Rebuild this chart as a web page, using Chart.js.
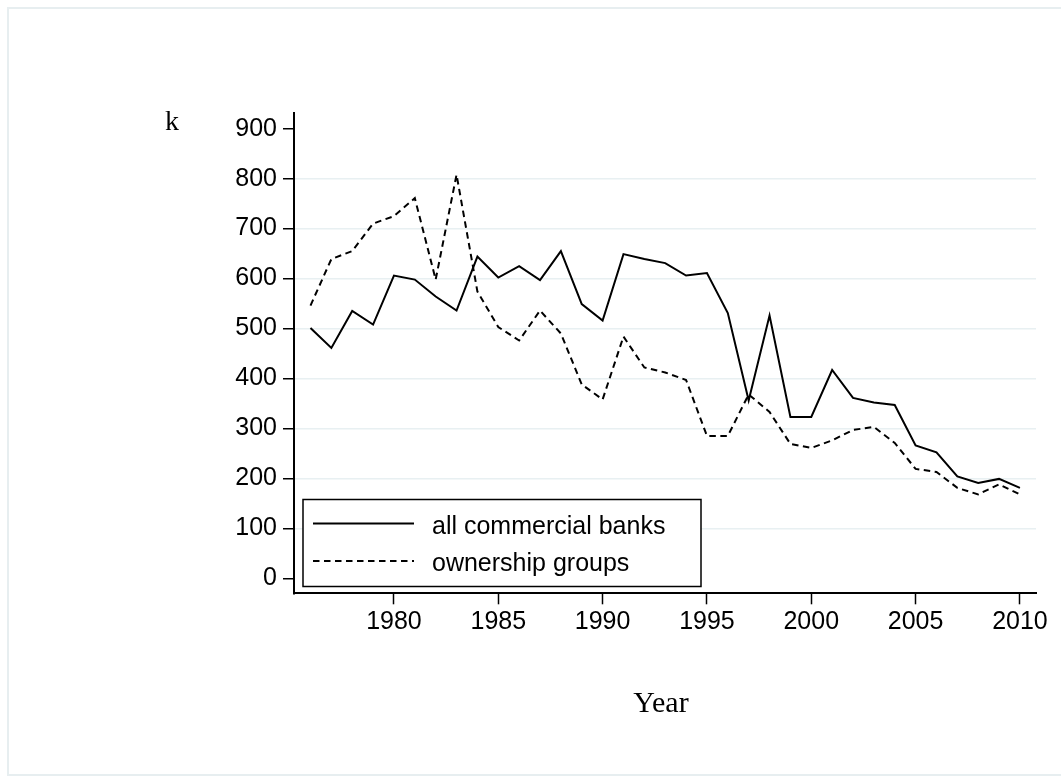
<!DOCTYPE html>
<html>
<head>
<meta charset="utf-8">
<script src="https://cdn.jsdelivr.net/npm/chart.js@4.4.0/dist/chart.umd.min.js"></script>
<style>
  html, body { margin: 0; padding: 0; background: #fff; }
</style>
</head>
<body>
<canvas id="bankChart" width="1061" height="776"></canvas>
<script>
const years = [1976, 1977, 1978, 1979, 1980, 1981, 1982, 1983, 1984, 1985,
  1986, 1987, 1988, 1989, 1990, 1991, 1992, 1993, 1994, 1995,
  1996, 1997, 1998, 1999, 2000, 2001, 2002, 2003, 2004, 2005,
  2006, 2007, 2008, 2009, 2010];
const allBanks = [501, 461, 535, 508, 606, 598, 564, 536, 644, 602,
  625, 597, 655, 549, 516, 649, 639, 631, 606, 611,
  531, 356, 526, 323, 323, 417, 361, 352, 347, 266,
  252, 204, 191, 199, 181];
const ownershipGroups = [546, 639, 655, 710, 725, 761, 598, 808, 574, 503,
  476, 536, 490, 388, 358, 484, 422, 412, 397, 285,
  285, 368, 333, 269, 261, 276, 297, 303, 271, 219,
  213, 181, 168, 188, 168];
const seriesNames = ["all commercial banks", "ownership groups"];
const xTicks = [1980, 1985, 1990, 1995, 2000, 2005, 2010];
const yTicks = [0, 100, 200, 300, 400, 500, 600, 700, 800, 900];

const sans = "'Liberation Sans', Arial, sans-serif";
const serif = "'Liberation Serif', 'Times New Roman', serif";

function toPoints(values) {
  return years.map((year, i) => ({ x: year, y: values[i] }));
}

// frame, axis captions and the boxed legend are painted by hand
const decorations = {
  id: "decorations",
  beforeDraw(chart) {
    const ctx = chart.ctx;
    ctx.save();
    ctx.strokeStyle = "#e7eef0";
    ctx.lineWidth = 2;
    ctx.beginPath();
    ctx.moveTo(1061, 8);
    ctx.lineTo(8, 8);
    ctx.lineTo(8, 775);
    ctx.lineTo(1061, 775);
    ctx.stroke();
    ctx.restore();
  },
  afterDraw(chart) {
    const ctx = chart.ctx;
    ctx.save();
    ctx.fillStyle = "#000";
    ctx.font = `28px ${serif}`;
    ctx.textAlign = "left";
    ctx.textBaseline = "alphabetic";
    ctx.fillText("k", 165, 130);
    ctx.font = `30px ${serif}`;
    ctx.textAlign = "center";
    ctx.fillText("Year", 661, 712);

    ctx.fillStyle = "#fff";
    ctx.fillRect(303, 499.5, 398, 87);
    ctx.strokeStyle = "#000";
    ctx.lineWidth = 1.5;
    ctx.strokeRect(303, 499.5, 398, 87);

    const rows = [523.5, 561];
    chart.data.datasets.forEach((ds, i) => {
      ctx.beginPath();
      ctx.setLineDash(ds.borderDash || []);
      ctx.lineWidth = ds.borderWidth;
      ctx.strokeStyle = ds.borderColor;
      ctx.moveTo(313, rows[i]);
      ctx.lineTo(414, rows[i]);
      ctx.stroke();
      ctx.setLineDash([]);
      ctx.fillStyle = "#000";
      ctx.font = `25px ${sans}`;
      ctx.textAlign = "left";
      ctx.textBaseline = "alphabetic";
      ctx.fillText(ds.label, 432, rows[i] + 10);
    });
    ctx.restore();
  },
};

new Chart(document.getElementById("bankChart"), {
  type: "line",
  data: {
    datasets: [
      { label: seriesNames[0], data: toPoints(allBanks), borderColor: "#000", borderWidth: 2, pointRadius: 0, tension: 0, fill: false },
      { label: seriesNames[1], data: toPoints(ownershipGroups), borderColor: "#000", borderWidth: 2, borderDash: [6.5, 4.5], pointRadius: 0, tension: 0, fill: false },
    ],
  },
  options: {
    responsive: false,
    animation: false,
    devicePixelRatio: 1,
    layout: { padding: { top: 112.7, right: 25, left: 0, bottom: 0 } },
    plugins: { legend: { display: false }, tooltip: { enabled: false } },
    scales: {
      x: {
        type: "linear",
        min: 1975.21,
        max: 2010.77,
        afterBuildTicks: (scale) => { scale.ticks = xTicks.map((v) => ({ value: v })); },
        afterFit: (scale) => { scale.height = 776 - 593.3; },
        grid: { drawOnChartArea: false, drawTicks: true, tickLength: 11, tickColor: "#000", tickWidth: 1.5 },
        border: { color: "#000", width: 2 },
        ticks: { color: "#000", font: { family: sans, size: 25 }, padding: 3, maxRotation: 0, autoSkip: false, callback: (v) => String(v) },
      },
      y: {
        min: -30,
        max: 932,
        afterBuildTicks: (scale) => { scale.ticks = yTicks.map((v) => ({ value: v })); },
        afterFit: (scale) => { scale.width = 294; },
        grid: {
          color: (c) => (c.tick && c.tick.value >= 100 && c.tick.value <= 800 ? "#e8f0f2" : "rgba(0,0,0,0)"),
          lineWidth: 1.5,
          tickColor: "#000",
          tickLength: 11,
          tickWidth: 1.5,
        },
        border: { color: "#000", width: 2 },
        ticks: { color: "#000", font: { family: sans, size: 25 }, padding: 6, callback: (v) => String(v) },
      },
    },
  },
  plugins: [decorations],
});
</script>
</body>
</html>
